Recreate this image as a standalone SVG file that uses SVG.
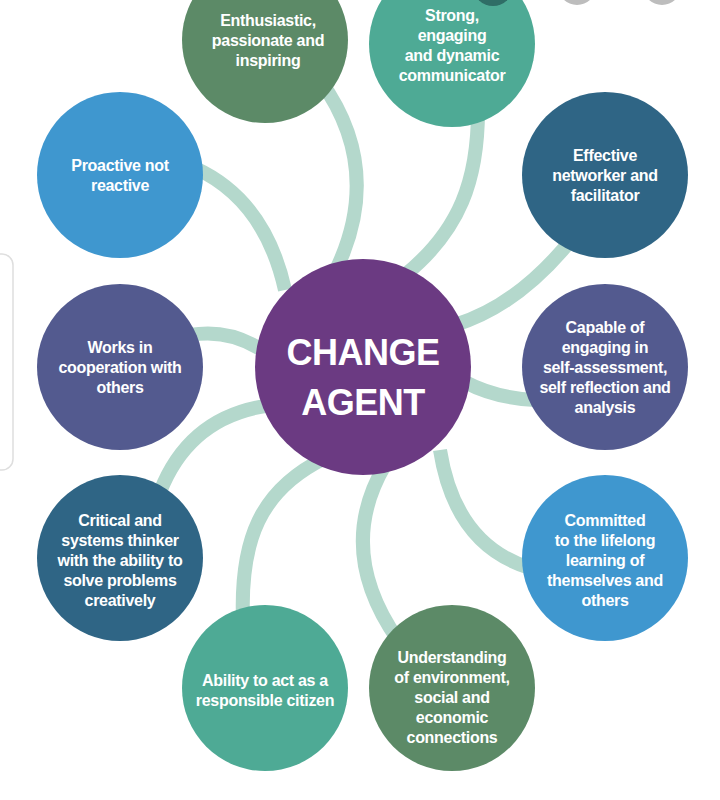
<svg xmlns="http://www.w3.org/2000/svg" width="720" height="800" viewBox="0 0 720 800">
<style>
.n{stroke:none}
.t{font-family:"Liberation Sans",Arial,sans-serif;font-weight:bold;font-size:16px;fill:#fff;text-anchor:middle;letter-spacing:-0.3px}
.c{font-family:"Liberation Sans",Arial,sans-serif;font-weight:bold;font-size:36px;fill:#fff;text-anchor:middle;letter-spacing:-0.5px}
.k{fill:none;stroke:#B4D8CC;stroke-width:14;stroke-linecap:butt}
.green{fill:#5C8A67}.teal{fill:#4EAA95}.blue{fill:#3F97CF}.dark{fill:#2F6585}.indigo{fill:#535A8F}
</style>
<rect width="720" height="800" fill="#fff"/>
<rect x="-12" y="254" width="25" height="216" rx="11" fill="#fff" stroke="#dedede" stroke-width="1.5"/>
<g id="connectors">
<path class="k" d="M 320 80 Q 385 170 335 272"/>
<path class="k" d="M 478 110 C 478 180 460 230 405 275"/>
<path class="k" d="M 195 168 Q 265 200 285 290"/>
<path class="k" d="M 575 235 Q 520 305 455 325"/>
<path class="k" d="M 190 335 Q 230 328 265 352"/>
<path class="k" d="M 465 382 Q 495 398 535 400"/>
<path class="k" d="M 160 492 Q 190 415 272 405"/>
<path class="k" d="M 243 620 C 240 540 260 490 325 458"/>
<path class="k" d="M 398 640 Q 335 550 385 465"/>
<path class="k" d="M 440 450 Q 455 545 530 568"/>
</g>
<g id="center">
<circle cx="363" cy="367" r="108" fill="#6B3A82"/>
<text class="c" x="363" y="365">CHANGE</text>
<text class="c" x="363" y="415">AGENT</text>
</g>
<g id="n1">
<circle class="green" cx="265" cy="40" r="83"/>
<text class="t" x="268" y="26">Enthusiastic,</text>
<text class="t" x="268" y="46">passionate and</text>
<text class="t" x="268" y="66">inspiring</text>
</g>
<g id="n2">
<circle class="teal" cx="452" cy="44" r="83"/>
<text class="t" x="452" y="21">Strong,</text>
<text class="t" x="452" y="41">engaging</text>
<text class="t" x="452" y="61">and dynamic</text>
<text class="t" x="452" y="81">communicator</text>
</g>
<g id="n3">
<circle class="blue" cx="120" cy="175" r="83"/>
<text class="t" x="120" y="171">Proactive not</text>
<text class="t" x="120" y="191">reactive</text>
</g>
<g id="n4">
<circle class="dark" cx="605" cy="175" r="83"/>
<text class="t" x="605" y="161">Effective</text>
<text class="t" x="605" y="181">networker and</text>
<text class="t" x="605" y="201">facilitator</text>
</g>
<g id="n5">
<circle class="indigo" cx="120" cy="367" r="83"/>
<text class="t" x="120" y="353">Works in</text>
<text class="t" x="120" y="373">cooperation with</text>
<text class="t" x="120" y="393">others</text>
</g>
<g id="n6">
<circle class="indigo" cx="605" cy="367" r="83"/>
<text class="t" x="605" y="333">Capable of</text>
<text class="t" x="605" y="353">engaging in</text>
<text class="t" x="605" y="373">self-assessment,</text>
<text class="t" x="605" y="393">self reflection and</text>
<text class="t" x="605" y="413">analysis</text>
</g>
<g id="n7">
<circle class="dark" cx="120" cy="558" r="83"/>
<text class="t" x="120" y="526">Critical and</text>
<text class="t" x="120" y="546">systems thinker</text>
<text class="t" x="120" y="566">with the ability to</text>
<text class="t" x="120" y="586">solve problems</text>
<text class="t" x="120" y="606">creatively</text>
</g>
<g id="n8">
<circle class="blue" cx="605" cy="558" r="83"/>
<text class="t" x="605" y="526">Committed</text>
<text class="t" x="605" y="546">to the lifelong</text>
<text class="t" x="605" y="566">learning of</text>
<text class="t" x="605" y="586">themselves and</text>
<text class="t" x="605" y="606">others</text>
</g>
<g id="n9">
<circle class="teal" cx="265" cy="688" r="83"/>
<text class="t" x="265" y="686">Ability to act as a</text>
<text class="t" x="265" y="706">responsible citizen</text>
</g>
<g id="n10">
<circle class="green" cx="452" cy="688" r="83"/>
<text class="t" x="452" y="663">Understanding</text>
<text class="t" x="452" y="683">of environment,</text>
<text class="t" x="452" y="703">social and</text>
<text class="t" x="452" y="723">economic</text>
<text class="t" x="452" y="743">connections</text>
</g>
<circle cx="493" cy="-14" r="20" fill="#2F6D66"/>
<circle cx="577" cy="-14" r="19" fill="#bdbdbd"/>
<circle cx="662" cy="-14" r="19" fill="#bdbdbd"/>
</svg>
